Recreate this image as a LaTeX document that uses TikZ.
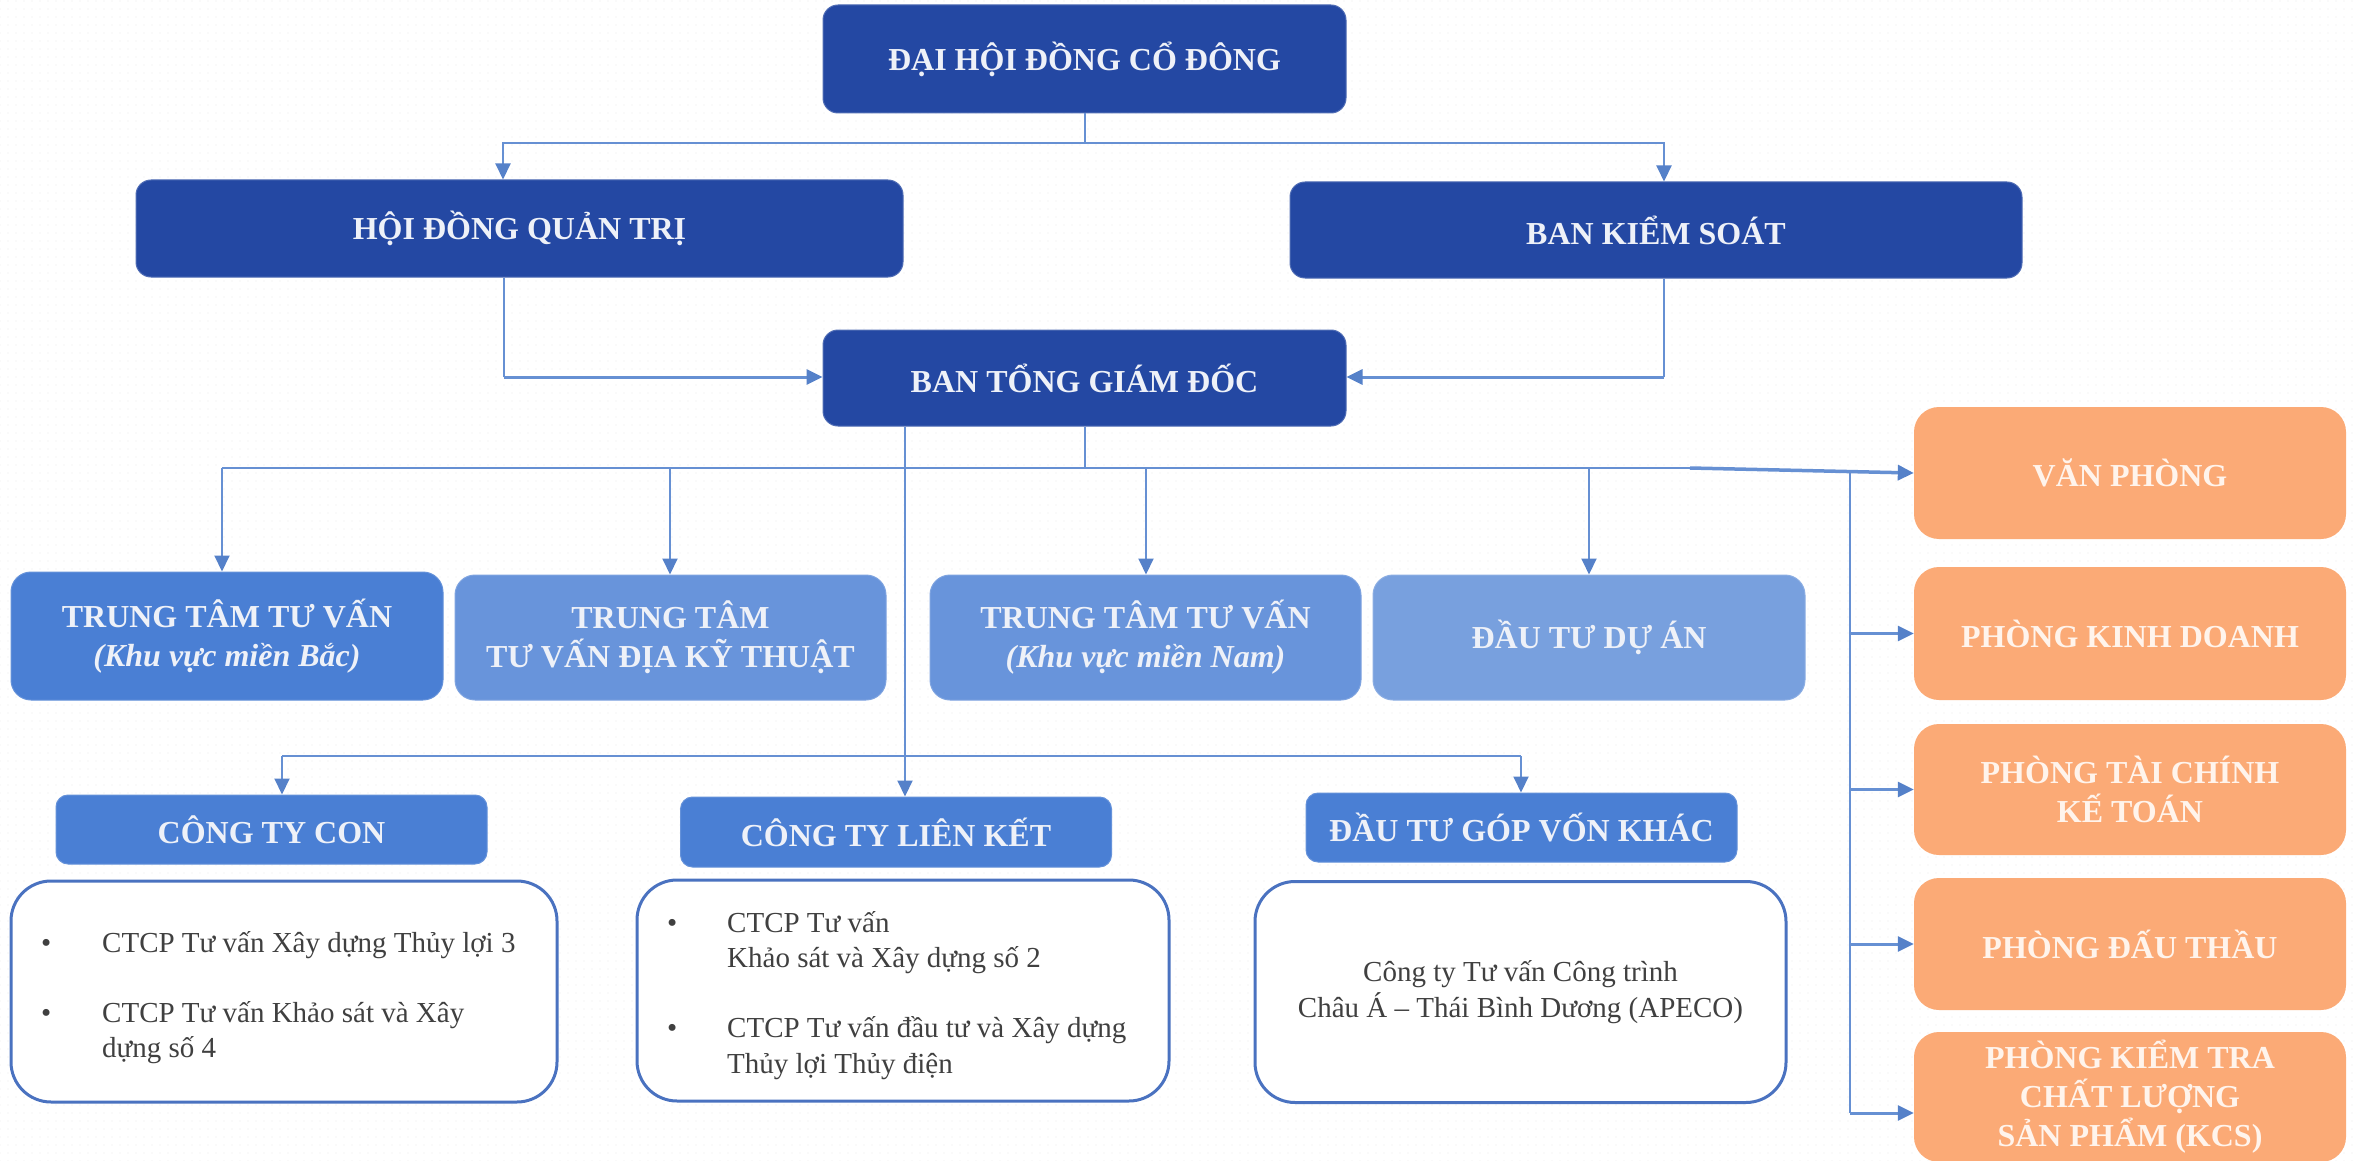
\documentclass[tikz,border=0pt]{standalone}
\usepackage{fontspec}
\setmainfont{Liberation Serif}
\usetikzlibrary{arrows.meta,patterns.meta}
\definecolor{navy}{HTML}{2448A3}
\definecolor{midA}{HTML}{4A7FD4}
\definecolor{midB}{HTML}{6894DB}
\definecolor{midC}{HTML}{78A0DE}
\definecolor{orng}{HTML}{FBAA76}
\definecolor{conn}{HTML}{6690D3}
\definecolor{tipc}{HTML}{5581C9}
\definecolor{wbord}{HTML}{4A72C0}
\definecolor{listtxt}{HTML}{404040}
\definecolor{navytxt}{HTML}{EEF1F8}
\definecolor{orngtxt}{HTML}{FFF4EC}
\tikzset{
 box/.style={rectangle, inner sep=0pt, align=center, font=\fontsize{32}{39}\selectfont\bfseries},
 navybox/.style={box, fill=navy, draw=navy!80!white, line width=1pt, rounded corners=15pt, text=navytxt},
 midbox/.style={box, rounded corners=20pt, text=navytxt, draw=#1!85!white, fill=#1, line width=1pt, minimum width=431pt, minimum height=125pt},
 orbox/.style={box, fill=orng, rounded corners=25pt, text=orngtxt, minimum width=432pt},
 hdbox/.style={box, fill=midA, draw=midA!85!white, line width=1pt, rounded corners=12pt, text=navytxt, minimum width=431pt, minimum height=69pt},
 wbox/.style={rectangle, draw=wbord, line width=3pt, fill=white, rounded corners=40pt, minimum height=221pt, inner sep=0pt},
 ltxt/.style={anchor=base west, inner sep=0pt, text=listtxt, font=\fontsize{29}{35}\selectfont},
 cline/.style={draw=conn, line width=2pt},
 arr/.style={cline, -{Triangle[length=16pt,width=15pt,color=tipc]}},
}
\begin{document}
\begin{tikzpicture}[x=1pt,y=-1pt]
\useasboundingbox (0,0) rectangle (2354,1161);
\fill[white] (0,0) rectangle (2354,1161);
\fill[pattern={Dots[distance=8pt,radius=0.7pt]}, pattern color=black!8] (0,0) rectangle (2354,1161);

% top levels
\node[navybox, minimum width=523pt, minimum height=108pt] (dhcd) at (1084.5,59) {ĐẠI HỘI ĐỒNG CỔ ĐÔNG};
\node[navybox, minimum width=767pt, minimum height=97pt] (hdqt) at (519.5,228.5) {HỘI ĐỒNG QUẢN TRỊ};
\node[navybox, minimum width=732pt, minimum height=96pt] (bks) at (1656,230) {BAN KIỂM SOÁT};
\node[navybox, minimum width=523pt, minimum height=96pt] (btgd) at (1084.5,378) {BAN TỔNG GIÁM ĐỐC};

% centres
\node[midbox=midA, minimum width=432pt, minimum height=128pt] (ttb) at (227,636) {TRUNG TÂM TƯ VẤN\\\itshape (Khu vực miền Bắc)};
\node[midbox=midB] (ttk) at (670.5,637.5) {TRUNG TÂM\\TƯ VẤN ĐỊA KỸ THUẬT};
\node[midbox=midB] (ttn) at (1145.5,637.5) {TRUNG TÂM TƯ VẤN\\\itshape (Khu vực miền Nam)};
\node[midbox=midC, minimum width=432pt] (dtda) at (1589,637.5) {ĐẦU TƯ DỰ ÁN};

% departments
\node[orbox, minimum height=132pt] (vp) at (2130,473) {VĂN PHÒNG};
\node[orbox, minimum height=133pt] (kd) at (2130,633.5) {PHÒNG KINH DOANH};
\node[orbox, minimum height=131pt] (tc) at (2130,789.5) {PHÒNG TÀI CHÍNH\\KẾ TOÁN};
\node[orbox, minimum height=132pt] (dt) at (2130,944) {PHÒNG ĐẤU THẦU};
\node[orbox, minimum height=130pt] (kcs) at (2130,1097) {PHÒNG KIỂM TRA\\CHẤT LƯỢNG\\SẢN PHẨM (KCS)};

% companies
\node[hdbox] (con) at (271.5,829.5) {CÔNG TY CON};
\node[hdbox, minimum height=70pt] (lk) at (896,832) {CÔNG TY LIÊN KẾT};
\node[hdbox] (dtk) at (1521.5,827.5) {ĐẦU TƯ GÓP VỐN KHÁC};

\node[wbox, minimum width=546pt] (w1) at (284,991.5) {};
\node[wbox, minimum width=532pt] (w2) at (903,990.5) {};
\node[wbox, minimum width=531pt, align=center, text=listtxt, font=\fontsize{29}{36}\selectfont] (w3) at (1520.5,992) {Công ty Tư vấn Công trình\\Châu Á – Thái Bình Dương (APECO)};

\node[ltxt] (b1) at (41,952) {•};
\node[ltxt] (t1) at (102,952) {CTCP Tư vấn Xây dựng Thủy lợi 3};
\node[ltxt] (b2) at (41,1022) {•};
\node[ltxt] (t2) at (102,1022) {CTCP Tư vấn Khảo sát và Xây};
\node[ltxt] (t3) at (102,1057) {dựng số 4};

\node[ltxt] (b3) at (667,932) {•};
\node[ltxt] (t4) at (727,932) {CTCP Tư vấn};
\node[ltxt] (t5) at (727,967) {Khảo sát và Xây dựng số 2};
\node[ltxt] (b4) at (667,1037) {•};
\node[ltxt] (t6) at (727,1037) {CTCP Tư vấn đầu tư và Xây dựng};
\node[ltxt] (t7) at (727,1073) {Thủy lợi Thủy điện};

% connectors: level 1
\coordinate (j0) at (1084.5,143);
\coordinate (jl) at (503,143);
\coordinate (jr) at (1664,143);
\draw[cline] (dhcd.south) -- (j0);
\draw[arr] (j0) -- (jl) -- (jl |- hdqt.north);
\draw[arr] (j0) -- (jr) -- (jr |- bks.north);

\coordinate (hq) at (504,377);
\draw[cline] (hdqt.south -| hq) -- (hq);
\draw[arr, line width=3pt] (hq) -- (hq -| btgd.west);
\coordinate (bq) at (1664,377);
\draw[cline] (bks.south -| bq) -- (bq);
\draw[arr, line width=3pt] (bq) -- (bq -| btgd.east);

% level 2
\coordinate (m0) at (1084.5,468);
\coordinate (mL) at (222,468);
\coordinate (mR) at (1690,468);
\coordinate (m2) at (670,468);
\coordinate (m3) at (1146,468);
\coordinate (m4) at (1589,468);
\draw[cline] (btgd.south -| m0) -- (m0);
\draw[cline] (mL) -- (mR);
\draw[arr] (mL) -- (mL |- ttb.north);
\draw[arr] (m2) -- (m2 |- ttk.north);
\draw[arr] (m3) -- (m3 |- ttn.north);
\draw[arr] (m4) -- (m4 |- dtda.north);
\draw[arr, line width=3.5pt] (mR) -- (vp.west);

\coordinate (rv) at (1850,470);
\coordinate (rb) at (1850,1113);
\draw[cline] (rv) -- (rb);
\draw[arr, line width=3pt] (rv |- kd.west) -- (kd.west);
\draw[arr, line width=3pt] (rv |- tc.west) -- (tc.west);
\draw[arr, line width=3pt] (rv |- dt.west) -- (dt.west);
\draw[arr, line width=3pt] (rb) -- (rb -| kcs.west);

% level 3
\coordinate (n0) at (905,756);
\coordinate (nL) at (282,756);
\coordinate (nR) at (1521,756);
\draw[cline] (btgd.south -| n0) -- (n0);
\draw[cline] (nL) -- (nR);
\draw[arr] (nL) -- (nL |- con.north);
\draw[arr] (n0) -- (n0 |- lk.north);
\draw[arr] (nR) -- (nR |- dtk.north);
\end{tikzpicture}
\end{document}
